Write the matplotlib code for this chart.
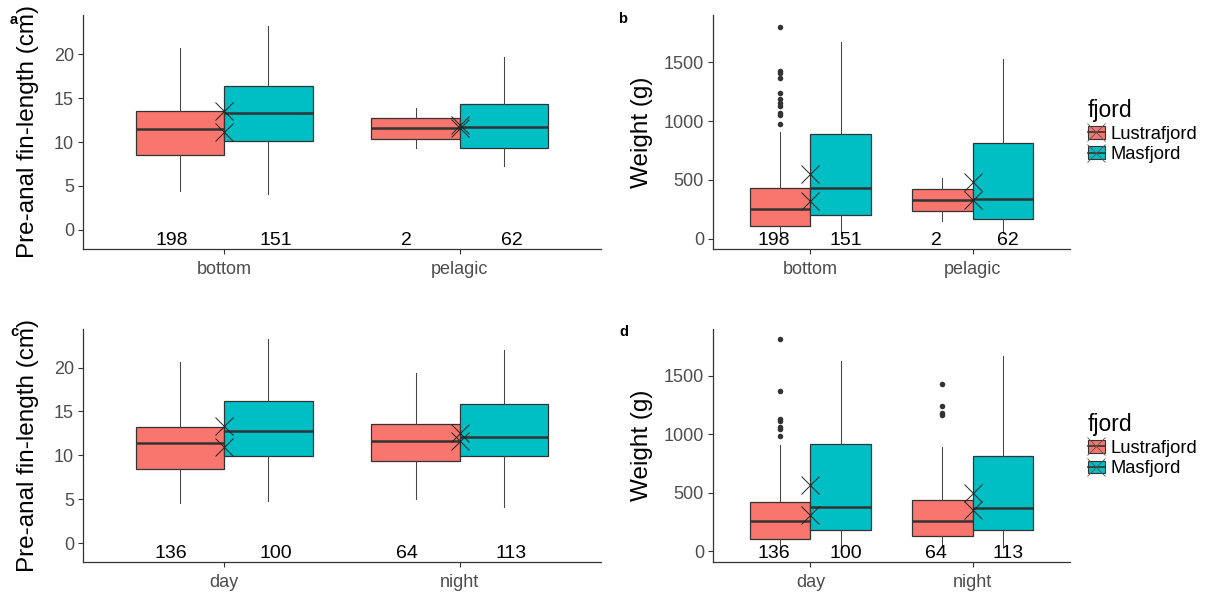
import matplotlib
matplotlib.use('Agg')
import matplotlib.pyplot as plt
from matplotlib.patches import Patch, Rectangle
from matplotlib.lines import Line2D
import numpy as np

plt.rcParams['font.family'] = ['Liberation Sans', 'DejaVu Sans']

# ---------------- data ----------------
fjords = ['Lustrafjord', 'Masfjord']
fjord_colors = ['#F8766D', '#00BFC4']
habitat_groups = ['bottom', 'pelagic']
period_groups = ['day', 'night']

# panel a: pre-anal fin-length by habitat
a_lus_whislo = [4.44, 9.3]
a_lus_q1 = [8.54, 10.36]
a_lus_med = [11.5, 11.65]
a_lus_q3 = [13.5, 12.7]
a_lus_whishi = [20.7, 13.9]
a_lus_mean = [11.2, 11.65]
a_mas_whislo = [4.06, 7.29]
a_mas_q1 = [10.17, 9.34]
a_mas_med = [13.36, 11.77]
a_mas_q3 = [16.4, 14.4]
a_mas_whishi = [23.2, 19.7]
a_mas_mean = [13.6, 11.9]

# panel b: weight by habitat
b_lus_whislo = [30, 153]
b_lus_q1 = [104, 235]
b_lus_med = [252, 331]
b_lus_q3 = [435, 422]
b_lus_whishi = [903, 515]
b_lus_mean = [323, 331]
b_lus_fliers = [[1803, 1429, 1407, 1370, 1242, 1186, 1157, 1129, 1067, 1053, 976], []]
b_mas_whislo = [40, 50]
b_mas_q1 = [198, 167]
b_mas_med = [435, 337]
b_mas_q3 = [894, 812]
b_mas_whishi = [1670, 1526]
b_mas_mean = [552, 478]

# panel c: pre-anal fin-length by period
c_lus_whislo = [4.55, 5.0]
c_lus_q1 = [8.42, 9.4]
c_lus_med = [11.38, 11.61]
c_lus_q3 = [13.27, 13.58]
c_lus_whishi = [20.67, 19.42]
c_lus_mean = [11.0, 11.68]
c_mas_whislo = [4.74, 4.1]
c_mas_q1 = [9.97, 9.97]
c_mas_med = [12.82, 12.14]
c_mas_q3 = [16.23, 15.9]
c_mas_whishi = [23.25, 22.0]
c_mas_mean = [13.35, 12.6]

# panel d: weight by period
d_lus_whislo = [30, 40]
d_lus_q1 = [102, 131]
d_lus_med = [259, 256]
d_lus_q3 = [426, 441]
d_lus_whishi = [909, 895]
d_lus_mean = [307, 355]
d_lus_fliers = [[1812, 1372, 1131, 1117, 1065, 1045, 986], [1427, 1242, 1180, 1165]]
d_mas_whislo = [20, 40]
d_mas_q1 = [185, 185]
d_mas_med = [378, 370]
d_mas_q3 = [920, 816]
d_mas_whishi = [1625, 1668]
d_mas_mean = [563, 498]

# sample sizes
n_habitat_lus = [198, 2]
n_habitat_mas = [151, 62]
n_period_lus = [136, 64]
n_period_mas = [100, 113]

len_ticks = [0, 5, 10, 15, 20]
wt_ticks = [0, 500, 1000, 1500]


def make_stats(whislo, q1, med, q3, whishi, fliers=None):
    out = []
    for i in range(len(med)):
        out.append(dict(whislo=whislo[i], q1=q1[i], med=med[i], q3=q3[i],
                        whishi=whishi[i],
                        fliers=np.array(fliers[i] if fliers else [])))
    return out


# ---------------- figure ----------------
W, H = 1212, 597
fig = plt.figure(figsize=(W / 100, H / 100), dpi=100)
fig.patch.set_facecolor('white')


def px_axes(left, top, right, bottom):
    return fig.add_axes([left / W, 1 - bottom / H, (right - left) / W, (bottom - top) / H])


EDGE = '#333333'


def draw_panel(ax, groups, stats_list, means_list, counts_list, ylim, yticks,
               ylabel, label_y, ylabel_x):
    xs = np.arange(1, len(groups) + 1)
    box_off = [-0.1875, 0.1875]
    txt_off = [-0.225, 0.22]
    for k in range(2):
        ax.bxp(stats_list[k], positions=xs + box_off[k], widths=0.375,
               patch_artist=True, showcaps=False, showfliers=True,
               manage_ticks=False,
               boxprops=dict(facecolor=fjord_colors[k], edgecolor=EDGE, linewidth=0.9),
               medianprops=dict(color=EDGE, linewidth=1.8),
               whiskerprops=dict(color='#444444', linewidth=0.75),
               flierprops=dict(marker='o', markerfacecolor='#333333',
                               markeredgecolor='none', markersize=4.0))
    for k in range(2):
        ax.plot(xs, means_list[k], linestyle='none', marker='x', markersize=13,
                color='#222222', markeredgewidth=0.7, zorder=5)
    for k in range(2):
        for x, n in zip(xs, counts_list[k]):
            ax.text(x + txt_off[k], label_y, str(n), ha='center', va='center',
                    fontsize=14, color='black', zorder=6)
    ax.set_xlim(0.4, len(groups) + 0.6)
    ax.set_ylim(*ylim)
    ax.set_xticks(xs)
    ax.set_xticklabels(groups)
    ax.set_yticks(yticks)
    ax.set_yticklabels([str(t) for t in yticks])
    for s in ['top', 'right']:
        ax.spines[s].set_visible(False)
    for s in ['left', 'bottom']:
        ax.spines[s].set_color('#333333')
        ax.spines[s].set_linewidth(0.9)
    ax.tick_params(axis='both', length=3.5, width=0.8, color='#333333',
                   labelcolor='#4D4D4D', labelsize=13)
    ax.tick_params(axis='x', pad=5)
    ax.tick_params(axis='y', pad=3)
    ax.set_ylabel(ylabel, fontsize=17.5, color='black')
    ax.yaxis.label.set_va('center')
    ax.yaxis.set_label_coords(ylabel_x, 0.5)
    ax.set_facecolor('white')


ax_a = px_axes(83, 15, 601, 249)
ax_b = px_axes(713, 15, 1070, 249)
ax_c = px_axes(83, 329, 601, 562)
ax_d = px_axes(713, 329, 1070, 562)

draw_panel(ax_a, habitat_groups,
           [make_stats(a_lus_whislo, a_lus_q1, a_lus_med, a_lus_q3, a_lus_whishi),
            make_stats(a_mas_whislo, a_mas_q1, a_mas_med, a_mas_q3, a_mas_whishi)],
           [a_lus_mean, a_mas_mean], [n_habitat_lus, n_habitat_mas],
           (-2.2, 24.5), len_ticks, 'Pre-anal fin-length (cm)', -1.2, -0.106)

draw_panel(ax_b, habitat_groups,
           [make_stats(b_lus_whislo, b_lus_q1, b_lus_med, b_lus_q3, b_lus_whishi, b_lus_fliers),
            make_stats(b_mas_whislo, b_mas_q1, b_mas_med, b_mas_q3, b_mas_whishi)],
           [b_lus_mean, b_mas_mean], [n_habitat_lus, n_habitat_mas],
           (-88, 1902), wt_ticks, 'Weight (g)', -15, -0.199)

draw_panel(ax_c, period_groups,
           [make_stats(c_lus_whislo, c_lus_q1, c_lus_med, c_lus_q3, c_lus_whishi),
            make_stats(c_mas_whislo, c_mas_q1, c_mas_med, c_mas_q3, c_mas_whishi)],
           [c_lus_mean, c_mas_mean], [n_period_lus, n_period_mas],
           (-2.16, 24.4), len_ticks, 'Pre-anal fin-length (cm)', -1.2, -0.106)

draw_panel(ax_d, period_groups,
           [make_stats(d_lus_whislo, d_lus_q1, d_lus_med, d_lus_q3, d_lus_whishi, d_lus_fliers),
            make_stats(d_mas_whislo, d_mas_q1, d_mas_med, d_mas_q3, d_mas_whishi)],
           [d_lus_mean, d_mas_mean], [n_period_lus, n_period_mas],
           (-90, 1898), wt_ticks, 'Weight (g)', -14, -0.199)

# panel letters
for lab, (px, py) in zip(['a', 'b', 'c', 'd'],
                         [(14, 20), (623, 19), (14.5, 332), (624, 332)]):
    fig.text(px / W, 1 - py / H, lab, ha='center', va='center',
             fontsize=10.5, fontweight='bold', color='black')


# legends with boxplot-style keys (box + median line + mean cross)
class BoxKeyHandler:
    def legend_artist(self, legend, orig_handle, fontsize, handlebox):
        x0, y0 = handlebox.xdescent, handlebox.ydescent
        w, h = handlebox.width, handlebox.height
        tr = handlebox.get_transform()
        rect = Rectangle((-x0, -y0), w, h, facecolor=orig_handle.get_facecolor(),
                         edgecolor=EDGE, linewidth=0.8, transform=tr)
        med = Line2D([-x0, -x0 + w], [-y0 + h / 2] * 2, color=EDGE,
                     linewidth=1.2, transform=tr)
        cross = Line2D([-x0 + w / 2], [-y0 + h / 2], linestyle='none', marker='x',
                       markersize=13, color='#555555', markeredgewidth=0.6,
                       transform=tr)
        for art in (rect, med, cross):
            handlebox.add_artist(art)
        return rect


for top_px in [99, 413]:
    handles = [Patch(facecolor=c) for c in fjord_colors]
    fig.legend(handles, fjords,
               handler_map={Patch: BoxKeyHandler()},
               loc='upper left', bbox_to_anchor=(1088 / W, 1 - top_px / H),
               title='fjord', frameon=False, fontsize=13.2, title_fontsize=16.5,
               alignment='left', handlelength=0.9, handleheight=0.7,
               handletextpad=0.35, labelspacing=0.2, borderaxespad=0,
               borderpad=0)

fig.savefig('out.png', dpi=100, facecolor='white')
